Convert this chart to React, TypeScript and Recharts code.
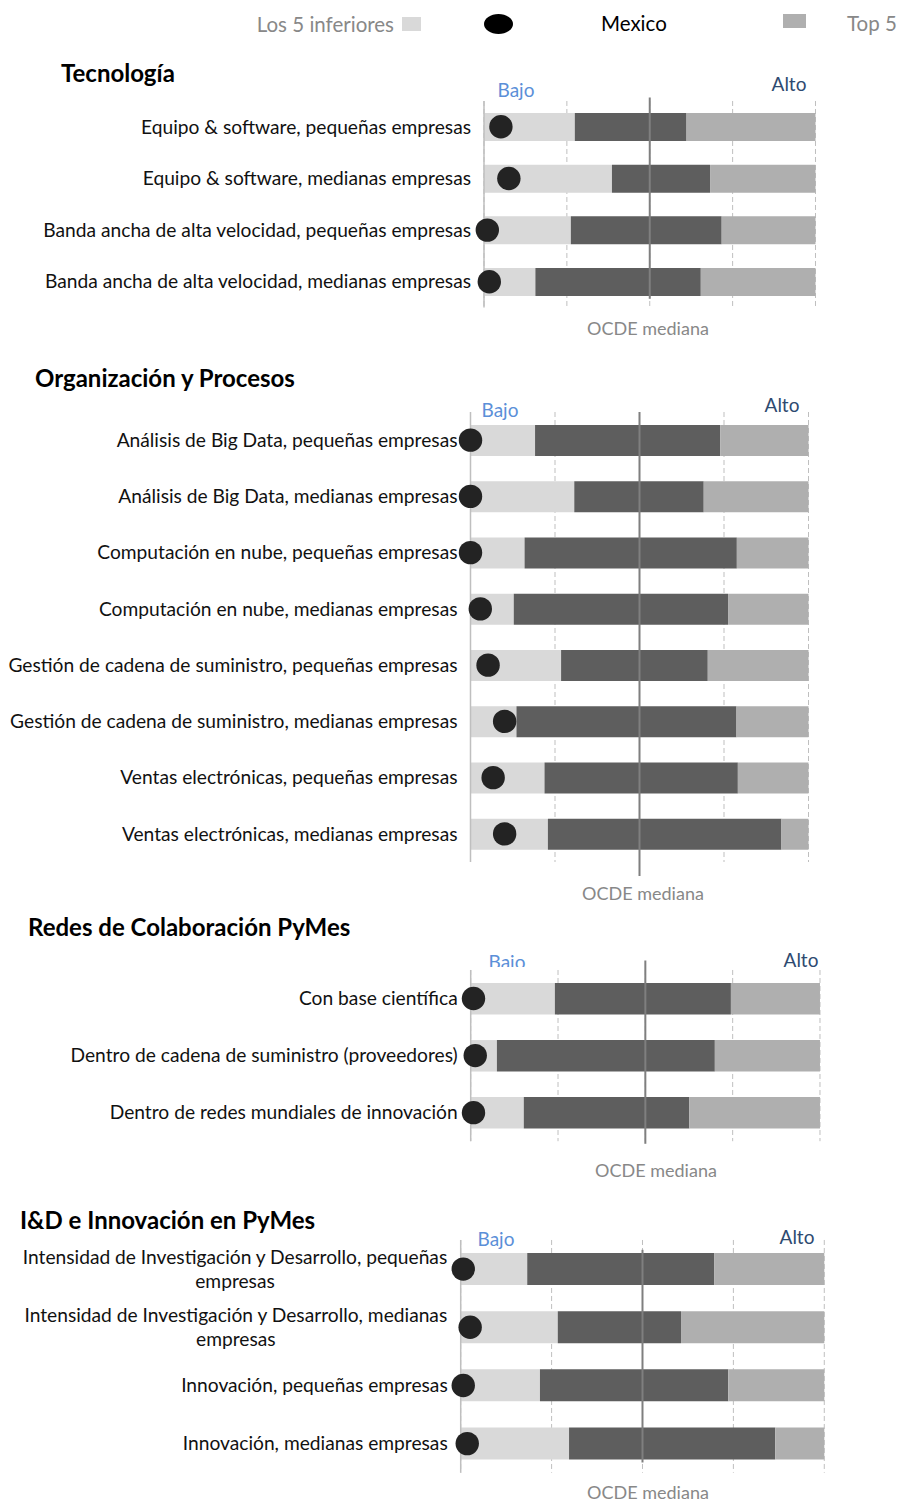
import React from 'react';
import { ComposedChart, Bar, Line, XAxis, YAxis, CartesianGrid, ReferenceLine } from 'recharts';

const FONT = 'Lato, "Open Sans", sans-serif';

// ---------- DATA ----------
const tecCategories = [
  'Equipo & software, pequeñas empresas',
  'Equipo & software, medianas empresas',
  'Banda ancha de alta velocidad, pequeñas empresas',
  'Banda ancha de alta velocidad, medianas empresas',
];
const tecBottom5 = [27.4, 38.6, 26.2, 15.5];
const tecTop5 = [61.1, 68.2, 71.7, 65.4];
const tecMexico = [5.1, 7.5, 1.0, 1.6];

const orgCategories = [
  'Análisis de Big Data, pequeñas empresas',
  'Análisis de Big Data, medianas empresas',
  'Computación en nube, pequeñas empresas',
  'Computación en nube, medianas empresas',
  'Gestión de cadena de suministro, pequeñas empresas',
  'Gestión de cadena de suministro, medianas empresas',
  'Ventas electrónicas, pequeñas empresas',
  'Ventas electrónicas, medianas empresas',
];
const orgBottom5 = [19.1, 30.7, 16.0, 12.8, 26.8, 13.6, 21.9, 22.9];
const orgTop5 = [73.9, 69.0, 78.8, 76.2, 70.2, 78.7, 79.1, 92.0];
const orgMexico = [0, 0, 0, 2.9, 5.2, 10.1, 6.7, 10.1];

const redCategories = [
  'Con base científica',
  'Dentro de cadena de suministro (proveedores)',
  'Dentro de redes mundiales de innovación',
];
const redBottom5 = [24.1, 7.5, 15.2];
const redTop5 = [74.5, 69.9, 62.6];
const redMexico = [0.8, 1.3, 0.8];

const idCategories = [
  'Intensidad de Investigación y Desarrollo, pequeñas\nempresas',
  'Intensidad de Investigación y Desarrollo, medianas\nempresas',
  'Innovación, pequeñas empresas',
  'Innovación, medianas empresas',
];
const idBottom5 = [18.3, 26.7, 21.8, 29.8];
const idTop5 = [69.7, 60.6, 73.6, 86.5];
const idMexico = [0.7, 2.6, 0.7, 1.8];

const scaleTicks = [0, 25, 50, 75, 100];
const OECD_MEDIAN = 50;

const titles = ['Tecnología', 'Organización y Procesos', 'Redes de Colaboración PyMes', 'I&D e Innovación en PyMes'];

// ---------- STYLE ----------
const C_LOW = '#d9d9d9';
const C_MID = '#5e5e5e';
const C_HIGH = '#afafaf';
const C_DOT = '#232323';
const C_GRID = '#bfbfbf';
const C_MED = '#7f7f7f';
const LABEL_SIZE = 19.2;
const LABEL_GAP = 13;
const TITLE_SIZE = 24;
const LEGEND_SIZE = 20.5;

function buildRows(cats: string[], b: number[], t: number[], m: number[]) {
  return cats.map((name, i) => ({ name, low: b[i], mid: t[i] - b[i], high: 100 - t[i], mex: m[i] }));
}

let _ctx: CanvasRenderingContext2D | null = null;
function measure(text: string, font: string) {
  if (!_ctx) _ctx = document.createElement('canvas').getContext('2d');
  if (!_ctx) return text.length * 9;
  _ctx.font = font;
  return _ctx.measureText(text).width;
}

const LabelTick = (props: any) => {
  const { x, y, payload } = props;
  const lines = String(payload.value).split('\n');
  if (lines.length === 1) {
    return (
      <text x={x} y={y} dy="0.35em" textAnchor="end" fontFamily={FONT} fontSize={LABEL_SIZE} fill="#111">
        {lines[0]}
      </text>
    );
  }
  const w = measure(lines[0], `${LABEL_SIZE}px ${FONT}`);
  const lh = 24;
  const y0 = y - ((lines.length - 1) * lh) / 2;
  return (
    <g>
      {lines.map((l, i) => (
        <text key={i} x={x - w / 2} y={y0 + i * lh} dy="0.35em" textAnchor="middle" fontFamily={FONT} fontSize={LABEL_SIZE} fill="#111">
          {l}
        </text>
      ))}
    </g>
  );
};

type PanelProps = {
  rows: any[];
  plotTop: number;
  plotBottom: number;
  axisLeft: number;
  axisRight: number;
  barSize: number;
  medExt: [number, number];
};

const PAD = 24;

const gridGenerator = (p: any) => {
  const sc = p && p.xAxis && p.xAxis.scale;
  if (typeof sc === 'function') return scaleTicks.map((v) => sc(v));
  const off = p.offset;
  return scaleTicks.map((v) => off.left + (off.width * v) / 100);
};

function Panel({ rows, plotTop, plotBottom, axisLeft, axisRight, barSize, medExt }: PanelProps) {
  const h = plotBottom - plotTop + PAD * 2;
  const medianShape = (p: any) => {
    const top = Math.min(p.y1, p.y2) - medExt[0];
    const bot = Math.max(p.y1, p.y2) + medExt[1];
    return <line x1={p.x1} x2={p.x2} y1={top} y2={bot} stroke={C_MED} strokeWidth={2} />;
  };
  return (
    <div style={{ position: 'absolute', left: 0, top: plotTop - PAD }}>
      <ComposedChart
        layout="vertical"
        width={902}
        height={h}
        data={rows}
        margin={{ top: PAD, bottom: PAD, left: 0, right: 902 - axisRight }}
      >
        <CartesianGrid
          horizontal={false}
          stroke={C_GRID}
          strokeDasharray="5 3"
          verticalCoordinatesGenerator={gridGenerator}
        />
        <XAxis type="number" domain={[0, 100]} ticks={scaleTicks} tick={false} axisLine={false} tickLine={false} height={0} />
        <YAxis
          type="category"
          dataKey="name"
          width={axisLeft}
          axisLine={{ stroke: C_GRID, strokeWidth: 1.5 }}
          tickLine={false}
          tickSize={0}
          tickMargin={LABEL_GAP}
          interval={0}
          tick={<LabelTick />}
        />
        <Bar dataKey="low" stackId="s" fill={C_LOW} barSize={barSize} isAnimationActive={false} />
        <Bar dataKey="mid" stackId="s" fill={C_MID} barSize={barSize} isAnimationActive={false} />
        <Bar dataKey="high" stackId="s" fill={C_HIGH} barSize={barSize} isAnimationActive={false} />
        <ReferenceLine x={OECD_MEDIAN} shape={medianShape} />
        <Line
          dataKey="mex"
          stroke="none"
          isAnimationActive={false}
          activeDot={false}
          dot={{ r: 11.7, fill: C_DOT, stroke: 'none', fillOpacity: 1 }}
        />
      </ComposedChart>
    </div>
  );
}

const tecRows = buildRows(tecCategories, tecBottom5, tecTop5, tecMexico);
const orgRows = buildRows(orgCategories, orgBottom5, orgTop5, orgMexico);
const redRows = buildRows(redCategories, redBottom5, redTop5, redMexico);
const idRows = buildRows(idCategories, idBottom5, idTop5, idMexico);

const T = (p: any) => (
  <text fontFamily={FONT} dominantBaseline="central" {...p} />
);

export default function App() {
  return (
    <div style={{ position: 'absolute', left: 0, top: 0, width: 902, height: 1503, background: '#fff', overflow: 'hidden' }}>
      <Panel rows={tecRows} plotTop={101.2} plotBottom={307.8} axisLeft={484} axisRight={815.5} barSize={28} medExt={[3.5, -8.8]} />
      <Panel rows={orgRows} plotTop={411.9} plotBottom={861.9} axisLeft={470.5} axisRight={808.5} barSize={31} medExt={[0, 14]} />
      <Panel rows={redRows} plotTop={969.5} plotBottom={1140.7} axisLeft={470.7} axisRight={820} barSize={31.5} medExt={[9.5, 2.6]} />
      <Panel rows={idRows} plotTop={1240.2} plotBottom={1472.9} axisLeft={460.7} axisRight={824.3} barSize={32} medExt={[-9.8, -10.2]} />
      <svg width={902} height={1503} style={{ position: 'absolute', left: 0, top: 0, pointerEvents: 'none' }}>
        <defs>
          <clipPath id="bajoClip">
            <rect x={0} y={940} width={902} height={27} />
          </clipPath>
        </defs>
        {/* legend */}
        <T x={394} y={24} textAnchor="end" fontSize={LEGEND_SIZE} fill="#888">Los 5 inferiores</T>
        <rect x={402} y={17} width={19} height={14} fill={C_LOW} />
        <ellipse cx={498.5} cy={24} rx={14.5} ry={10} fill="#000" />
        <T x={601} y={23} fontSize={LEGEND_SIZE} fill="#000">Mexico</T>
        <rect x={783} y={14} width={23} height={14} fill={C_HIGH} />
        <T x={847} y={23} fontSize={LEGEND_SIZE} fill="#888">Top 5</T>

        {/* titles */}
        <T x={61} y={72} fontSize={TITLE_SIZE} fontWeight="bold" fill="#000">{titles[0]}</T>
        <T x={35} y={377} fontSize={TITLE_SIZE} fontWeight="bold" fill="#000">{titles[1]}</T>
        <T x={28} y={926} fontSize={TITLE_SIZE} fontWeight="bold" fill="#000">{titles[2]}</T>
        <T x={20} y={1219} fontSize={TITLE_SIZE} fontWeight="bold" fill="#000">{titles[3]}</T>

        {/* Bajo / Alto */}
        <T x={516} y={89} textAnchor="middle" fontSize={19} fill="#5b8fd8">Bajo</T>
        <T x={789} y={83} textAnchor="middle" fontSize={19} fill="#2e4a70">Alto</T>
        <T x={500} y={409} textAnchor="middle" fontSize={19} fill="#5b8fd8">Bajo</T>
        <T x={782} y={404} textAnchor="middle" fontSize={19} fill="#2e4a70">Alto</T>
        <T x={507} y={961} textAnchor="middle" fontSize={19} fill="#5b8fd8" clipPath="url(#bajoClip)">Bajo</T>
        <T x={801} y={959} textAnchor="middle" fontSize={19} fill="#2e4a70">Alto</T>
        <T x={496} y={1238} textAnchor="middle" fontSize={19} fill="#5b8fd8">Bajo</T>
        <T x={797} y={1236} textAnchor="middle" fontSize={19} fill="#2e4a70">Alto</T>

        {/* OCDE mediana */}
        <T x={648} y={328} textAnchor="middle" fontSize={18} fill="#888">OCDE mediana</T>
        <T x={643} y={893} textAnchor="middle" fontSize={18} fill="#888">OCDE mediana</T>
        <T x={656} y={1170} textAnchor="middle" fontSize={18} fill="#888">OCDE mediana</T>
        <T x={648} y={1492} textAnchor="middle" fontSize={18} fill="#888">OCDE mediana</T>
      </svg>
    </div>
  );
}
